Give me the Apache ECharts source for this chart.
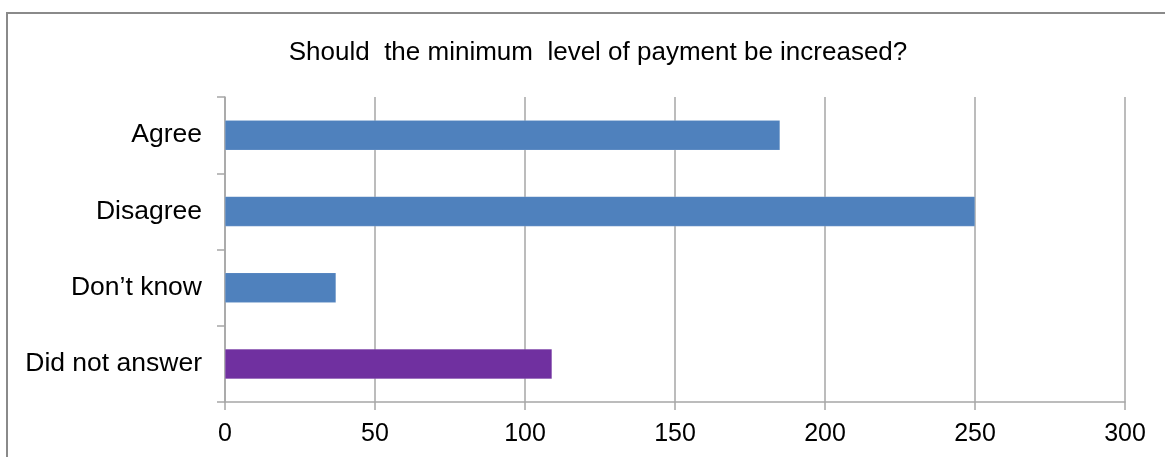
<!DOCTYPE html>
<html>
<head>
<meta charset="utf-8">
<script src="https://cdn.jsdelivr.net/npm/echarts@6/dist/echarts.min.js"></script>
<style>
  html, body { margin: 0; padding: 0; background: #ffffff; }
  #frame { position: absolute; left: 6px; top: 12px; width: 1170px; height: 460px;
           border: 2px solid #8a8a8a; box-sizing: border-box; }
  #chart { position: absolute; left: 0; top: 0; width: 1165px; height: 457px; }
</style>
</head>
<body>
<div id="frame"></div>
<div id="chart"></div>
<script>
// Survey responses
const titleText = 'Should  the minimum  level of payment be increased?';
const categories = ['Agree', 'Disagree', 'Don\u2019t know', 'Did not answer'];
const responses = [185, 250, 37, 109];
const barColors = ['#4f81bd', '#4f81bd', '#4f81bd', '#7030a0'];
const xTicks = [0, 50, 100, 150, 200, 250, 300];

const chart = echarts.init(document.getElementById('chart'), null, { renderer: 'canvas' });
const axisGray = '#a6a6a6';
const font = '"Liberation Sans", Arial, sans-serif';

chart.setOption({
  backgroundColor: 'transparent',
  animation: false,
  title: {
    text: titleText,
    left: 593, top: 35, textAlign: 'center',
    textStyle: { fontFamily: font, fontSize: 26, fontWeight: 'normal', color: '#000' }
  },
  grid: { left: 225, right: 40, top: 97, bottom: 55, containLabel: false },
  xAxis: {
    type: 'value',
    min: xTicks[0], max: xTicks[xTicks.length - 1], interval: 50,
    axisLine: { show: true, lineStyle: { color: axisGray, width: 1.5 } },
    axisTick: { show: true, length: 8, lineStyle: { color: axisGray, width: 1.5 } },
    splitLine: { show: true, lineStyle: { color: axisGray, width: 1.5 } },
    axisLabel: { fontFamily: font, fontSize: 25, color: '#000', margin: 20 }
  },
  yAxis: {
    type: 'category',
    inverse: true,
    data: categories,
    axisLine: { show: true, lineStyle: { color: axisGray, width: 1.5 } },
    axisTick: { show: true, length: 8, lineStyle: { color: axisGray, width: 1.5 } },
    axisLabel: { fontFamily: font, fontSize: 26.5, color: '#000', margin: 23 }
  },
  series: [{
    type: 'bar',
    barWidth: 30,
    data: responses.map((v, i) => ({ value: v, itemStyle: { color: barColors[i] } })),
    itemStyle: { borderColor: 'rgba(255,255,255,0.25)', borderWidth: 0.5 }
  }]
});
</script>
</body>
</html>
